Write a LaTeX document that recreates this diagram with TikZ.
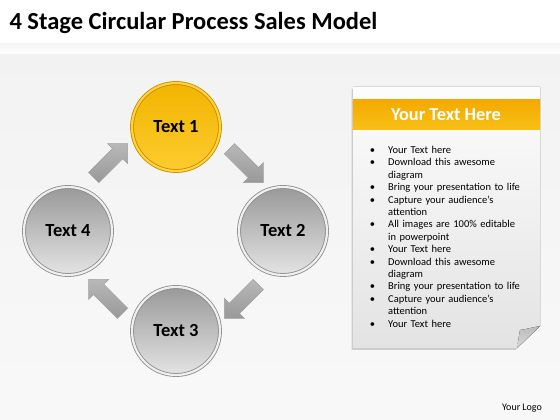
\documentclass[tikz,border=0pt]{standalone}
\usepackage{fontspec}
\setmainfont{Carlito}
\usepackage{enumitem}
\usetikzlibrary{calc,shapes.arrows,shadows}
\definecolor{goldtop}{HTML}{F2B400}
\definecolor{goldbot}{HTML}{FFD23A}
\definecolor{goldrim}{HTML}{C48A00}
\definecolor{greytop}{HTML}{999999}
\definecolor{greybot}{HTML}{E4E4E4}
\definecolor{greyrim}{HTML}{8A8A8A}
\definecolor{paper}{HTML}{E3E3E3}
\definecolor{backdrop}{HTML}{F2F2F2}
\begin{document}
\begin{tikzpicture}[x=1pt,y=1pt,
  stage/.style={circle,minimum size=88pt,line width=0.8pt,double distance=2.2pt,
    font=\fontsize{18.5}{22}\selectfont\bfseries,drop shadow={opacity=0.25,shadow xshift=1pt,shadow yshift=-1.5pt}},
  greystage/.style={stage,draw=greyrim,double=greybot!60!white,top color=greytop,bottom color=greybot},
  goldstage/.style={stage,draw=goldrim,double=goldbot,top color=goldtop,bottom color=goldbot!80!goldtop},
  blockarrow/.style={single arrow,minimum height=48pt,inner sep=7pt,single arrow head extend=7pt,
    draw=greyrim!80!white,line width=0.5pt,rotate=#1,
    top color=greytop!70!white,middle color=white,bottom color=greytop}]
\useasboundingbox (0,0) rectangle (560,420);
\fill[white] (0,0) rectangle (560,420);
\shade[top color=backdrop,bottom color=white!50!backdrop] (0,0) rectangle (560,376);
\shade[top color=backdrop!80!white,bottom color=white] (0,366) rectangle (560,376);
\node[anchor=base west,font=\fontsize{24.5}{28}\selectfont\bfseries] (title) at (6,390) {4 Stage Circular Process Sales Model};
% stages
\coordinate (c) at (176,189);
\node[goldstage] (t1) at ($(c)+(90:104)$) {Text 1};
\node[greystage] (t2) at ($(c)+(0:107)$) {Text 2};
\node[greystage] (t3) at ($(c)+(270:100)$) {Text 3};
\node[greystage] (t4) at ($(c)+(180:108)$) {Text 4};
\node[blockarrow=-45] (a12) at ($(c)+(45:96)$) {};
\node[blockarrow=-135] (a23) at ($(c)+(-45:96)$) {};
\node[blockarrow=135] (a34) at ($(c)+(-135:96)$) {};
\node[blockarrow=45] (a41) at ($(c)+(135:96)$) {};
% text panel
\fill[top color=white!90!paper,bottom color=paper,drop shadow={opacity=0.35,shadow xshift=-1.5pt,shadow yshift=-2pt}]
  (353,333) -- (540,333) -- (540,94) -- (517,72) -- (353,72) -- cycle;
\fill[top color=paper!60!gray,bottom color=paper!90!gray]
  (540,94) .. controls (530,92) and (522,90) .. (520,90) .. controls (519,84) .. (517,72) -- cycle;
\shade[top color=goldtop!80!orange,bottom color=goldtop!60!goldbot] (353,290) rectangle (540,320);
\node[white,font=\fontsize{18.3}{22}\selectfont\bfseries] (head) at (446,305) {Your Text Here};
\node[anchor=north west,text width=160pt,align=left,inner sep=0pt,
  font=\fontsize{10.5}{12.4}\selectfont] (list) at (366,279) {%
  \begin{itemize}[leftmargin=22pt,labelsep=13pt,itemsep=0pt,parsep=0pt,topsep=0pt,label=\textbullet]
  \item Your Text here
  \item Download this awesome\\diagram
  \item Bring your presentation to life
  \item Capture your audience’s\\attention
  \item All images are 100\% editable\\in powerpoint
  \item Your Text here
  \item Download this awesome\\diagram
  \item Bring your presentation to life
  \item Capture your audience’s\\attention
  \item Your Text here
  \end{itemize}};
\node[font=\fontsize{10}{12}\selectfont] (logo) at (522,12) {Your Logo};
\end{tikzpicture}
\end{document}
